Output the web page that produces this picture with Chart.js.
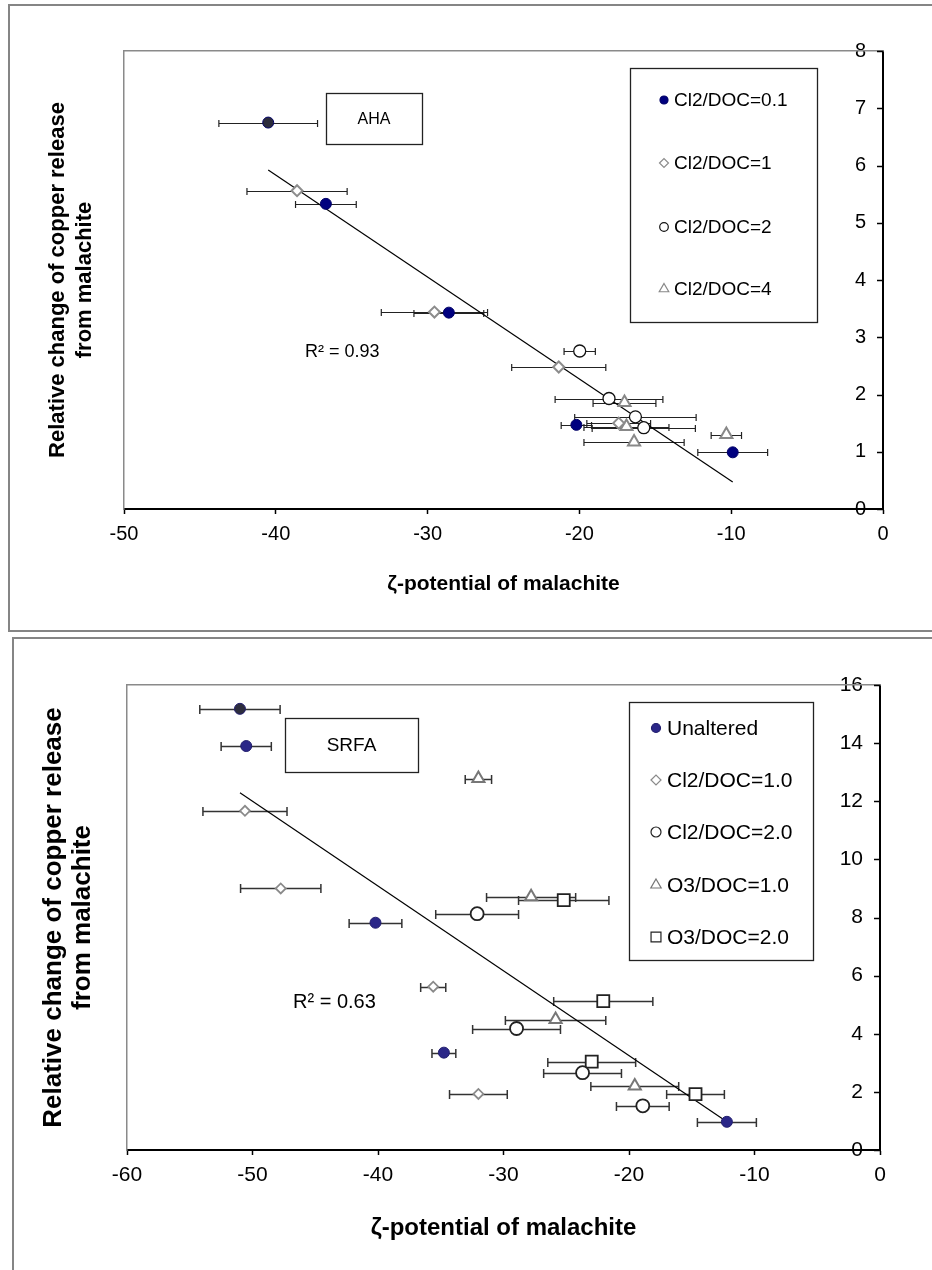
<!DOCTYPE html>
<html>
<head>
<meta charset="utf-8">
<script src="https://cdn.jsdelivr.net/npm/chart.js@4.4.0/dist/chart.umd.min.js"></script>
<style>
  html, body { margin: 0; padding: 0; background: #fff; }
  body { width: 932px; height: 1270px; position: relative; overflow: hidden; }
  .frame { position: absolute; border: 2px solid #858585; box-sizing: border-box; }
  #frameTop { left: 8px; top: 4px; width: 940px; height: 628px; }
  #frameBot { left: 12px; top: 637px; width: 940px; height: 660px; }
  .wrap { position: absolute; left: 0; width: 932px; }
  #ahaWrap { top: 0; height: 634px; }
  #srfaWrap { top: 634px; height: 636px; }
</style>
</head>
<body>
<div class="frame" id="frameTop"></div>
<div class="frame" id="frameBot"></div>
<div class="wrap" id="ahaWrap"><canvas id="ahaChart" width="932" height="634"></canvas></div>
<div class="wrap" id="srfaWrap"><canvas id="srfaChart" width="932" height="636"></canvas></div>
<script>
const FONT = '"Liberation Sans", Arial, sans-serif';

// ---------- AHA panel (top) ----------
const ahaLabels = ['Cl2/DOC=0.1', 'Cl2/DOC=1', 'Cl2/DOC=2', 'Cl2/DOC=4'];
const ahaCl01X = [-40.5, -36.7, -28.6, -20.2, -9.9];
const ahaCl01Y = [6.75, 5.33, 3.43, 1.47, 0.99];
const ahaCl01Err = [3.25, 2.0, 2.3, 1.0, 2.3];
const ahaCl1X = [-38.6, -29.55, -21.36, -17.41];
const ahaCl1Y = [5.56, 3.44, 2.48, 1.50];
const ahaCl1Err = [3.3, 3.5, 3.1, 2.1];
const ahaCl2X = [-19.98, -18.05, -16.31, -15.76];
const ahaCl2Y = [2.76, 1.93, 1.61, 1.42];
const ahaCl2Err = [1.03, 3.55, 4.0, 3.4];
const ahaCl4X = [-17.03, -16.9, -16.4, -10.32];
const ahaCl4Y = [1.86, 1.44, 1.17, 1.30];
const ahaCl4Err = [2.07, 2.8, 3.3, 1.0];
const ahaFitX = [-40.5, -9.9];
const ahaFitY = [5.92, 0.47];
const ahaXRange = [-50, 0, 10];
const ahaYRange = [0, 8, 1];

// ---------- SRFA panel (bottom) ----------
const srfaLabels = ['Unaltered', 'Cl2/DOC=1.0', 'Cl2/DOC=2.0', 'O3/DOC=1.0', 'O3/DOC=2.0'];
const srfaUnX = [-51.0, -50.5, -40.2, -34.75, -12.2];
const srfaUnY = [15.18, 13.9, 7.82, 3.35, 0.97];
const srfaUnErr = [3.2, 2.0, 2.1, 0.95, 2.35];
const srfaCl1X = [-50.6, -47.75, -35.6, -32.0];
const srfaCl1Y = [11.67, 9.0, 5.62, 1.93];
const srfaCl1Err = [3.35, 3.2, 1.0, 2.3];
const srfaCl2X = [-32.1, -28.96, -23.7, -18.9];
const srfaCl2Y = [8.13, 4.18, 2.66, 1.52];
const srfaCl2Err = [3.3, 3.5, 3.1, 2.1];
const srfaO31X = [-32.0, -27.8, -25.85, -19.54];
const srfaO31Y = [12.78, 8.71, 4.49, 2.2];
const srfaO31Err = [1.05, 3.55, 4.0, 3.5];
const srfaO32X = [-25.2, -22.05, -22.97, -14.7];
const srfaO32Y = [8.6, 5.12, 3.04, 1.92];
const srfaO32Err = [3.6, 3.95, 3.5, 2.3];
const srfaFitX = [-51.0, -12.2];
const srfaFitY = [12.29, 0.97];
const srfaXRange = [-60, 0, 10];
const srfaYRange = [0, 16, 2];

const yTitle = ['Relative change of copper release', 'from malachite'];
const xTitle = 'ζ-potential of malachite';

function pts(xs, ys) {
  return xs.map((x, i) => ({ x: x, y: ys[i] }));
}

function series(label, xs, ys, errs, st) {
  return {
    label: label,
    data: pts(xs, ys),
    xErr: errs,
    showLine: false,
    pointStyle: st.shape,
    pointRadius: st.r,
    pointHoverRadius: st.r,
    pointBackgroundColor: st.fill,
    pointBorderColor: st.line,
    pointBorderWidth: st.w,
    legendR: st.lr
  };
}

// horizontal error bars, drawn under the markers
const errorBars = {
  id: 'errorBars',
  beforeDatasetsDraw(chart, args, opts) {
    const { ctx, scales: { x, y } } = chart;
    ctx.save();
    ctx.strokeStyle = opts.color;
    ctx.lineWidth = opts.width;
    chart.data.datasets.forEach(ds => {
      if (!ds.xErr) return;
      ds.data.forEach((p, i) => {
        const e = ds.xErr[i];
        const x0 = x.getPixelForValue(p.x - e);
        const x1 = x.getPixelForValue(p.x + e);
        const py = Math.round(y.getPixelForValue(p.y)) + 0.5;
        ctx.beginPath();
        ctx.moveTo(x0, py); ctx.lineTo(x1, py);
        ctx.moveTo(x0, py - opts.cap); ctx.lineTo(x0, py + opts.cap);
        ctx.moveTo(x1, py - opts.cap); ctx.lineTo(x1, py + opts.cap);
        ctx.stroke();
      });
    });
    ctx.restore();
  }
};

// y tick marks pointing into the plot (axis sits at x = 0 on the right)
const innerTicks = {
  id: 'innerTicks',
  afterDraw(chart) {
    const s = chart.scales.y, ctx = chart.ctx;
    ctx.save();
    ctx.strokeStyle = '#000';
    ctx.lineWidth = 1.5;
    s.ticks.forEach(t => {
      const py = Math.round(s.getPixelForValue(t.value)) + 0.5;
      ctx.beginPath();
      ctx.moveTo(s.left - 6, py);
      ctx.lineTo(s.left, py);
      ctx.stroke();
    });
    ctx.restore();
  }
};

// sample tag, R² note and the boxed legend
const panelDecor = {
  id: 'panelDecor',
  afterDatasetsDraw(chart, args, o) {
    const ctx = chart.ctx;
    ctx.save();
    ctx.strokeStyle = '#222';
    ctx.lineWidth = 1.3;
    ctx.fillStyle = '#fff';
    const t = o.tag;
    ctx.fillRect(t.x, t.y, t.w, t.h);
    ctx.strokeRect(t.x + 0.5, t.y + 0.5, t.w, t.h);
    ctx.fillStyle = '#000';
    ctx.textAlign = 'center';
    ctx.textBaseline = 'middle';
    ctx.font = t.size + 'px ' + FONT;
    ctx.fillText(t.text, t.x + t.w / 2, t.y + t.h / 2 + 1);

    ctx.textAlign = 'left';
    ctx.font = o.r2.size + 'px ' + FONT;
    ctx.fillText(o.r2.text, o.r2.x, o.r2.y);

    const L = o.legend;
    ctx.fillStyle = '#fff';
    ctx.fillRect(L.x, L.y, L.w, L.h);
    ctx.strokeStyle = '#222';
    ctx.strokeRect(L.x + 0.5, L.y + 0.5, L.w, L.h);
    ctx.font = L.size + 'px ' + FONT;
    chart.data.datasets.filter(ds => ds.xErr).forEach((ds, i) => {
      const cy = L.rows[i];
      ctx.fillStyle = Array.isArray(ds.pointBackgroundColor) ? ds.pointBackgroundColor[1] : ds.pointBackgroundColor;
      ctx.strokeStyle = ds.pointBorderColor;
      ctx.lineWidth = 1.2;
      Chart.helpers.drawPoint(ctx, { pointStyle: ds.pointStyle, radius: ds.legendR, rotation: 0, borderWidth: 1.2 }, L.markX, cy);
      ctx.fillStyle = '#000';
      ctx.fillText(ds.label, L.textX, cy + 1);
    });
    ctx.restore();
  }
};

function buildChart(id, o) {
  const datasets = o.series.slice();
  datasets.push({
    label: 'fit', data: pts(o.fitX, o.fitY), showLine: true,
    borderColor: '#000', borderWidth: 1.2, pointRadius: 0, pointHoverRadius: 0, fill: false
  });
  return new Chart(document.getElementById(id), {
    type: 'scatter',
    data: { datasets: datasets },
    options: {
      responsive: false,
      animation: false,
      devicePixelRatio: 1,
      layout: { padding: { left: 0, right: o.padRight, top: o.padTop, bottom: o.padBottom } },
      plugins: {
        legend: { display: false },
        tooltip: { enabled: false },
        errorBars: o.bars,
        panelDecor: o.decor
      },
      scales: {
        x: {
          type: 'linear', position: 'bottom',
          min: o.xRange[0], max: o.xRange[1],
          ticks: { stepSize: o.xRange[2], color: '#000', padding: o.xTickPad, font: { family: FONT, size: o.tickSize } },
          grid: { display: true, drawOnChartArea: false, drawTicks: true, tickLength: 5, tickColor: '#000', tickWidth: 1.5 },
          border: { display: true, color: '#000', width: 2 },
          title: { display: true, text: xTitle, color: '#000', padding: 0, font: { family: FONT, size: o.xTitleSize, weight: 'bold', lineHeight: 1.2 } },
          afterFit(s) { s.height = o.xAxisH; }
        },
        y: {
          type: 'linear', position: 'right',
          min: o.yRange[0], max: o.yRange[1],
          ticks: { stepSize: o.yRange[2], color: '#000', mirror: true, padding: -17, font: { family: FONT, size: o.tickSize } },
          grid: { display: false },
          border: { display: true, color: '#000', width: 2 },
          afterFit(s) { s.width = 8; }
        },
        yl: {
          type: 'linear', axis: 'y', position: 'left',
          min: o.yRange[0], max: o.yRange[1],
          ticks: { display: false },
          grid: { display: false },
          border: { display: true, color: '#8a8a8a', width: 1.5 },
          title: { display: true, text: yTitle, color: '#000', padding: { top: o.yTitlePad, bottom: 0 }, font: { family: FONT, size: o.yTitleSize, weight: 'bold', lineHeight: o.yTitleLH } },
          afterFit(s) { s.width = o.areaLeft; }
        },
        xt: {
          type: 'linear', axis: 'x', position: 'top',
          min: o.xRange[0], max: o.xRange[1],
          ticks: { display: false },
          grid: { display: false },
          border: { display: true, color: '#8a8a8a', width: 1.5 },
          afterFit(s) { s.height = 0; }
        }
      }
    },
    plugins: [errorBars, innerTicks, panelDecor]
  });
}

// top: AHA
buildChart('ahaChart', {
  series: [
    series(ahaLabels[0], ahaCl01X, ahaCl01Y, ahaCl01Err, { shape: 'circle', r: 5.5, fill: ['#2b2b3b', '#00007f', '#00007f', '#00007f', '#00007f'], line: '#000066', w: 1, lr: 4 }),
    series(ahaLabels[1], ahaCl1X, ahaCl1Y, ahaCl1Err, { shape: 'rectRot', r: 5.5, fill: '#fff', line: '#8c8c8c', w: 2, lr: 4.5 }),
    series(ahaLabels[2], ahaCl2X, ahaCl2Y, ahaCl2Err, { shape: 'circle', r: 6, fill: '#fff', line: '#111', w: 1.3, lr: 4.3 }),
    series(ahaLabels[3], ahaCl4X, ahaCl4Y, ahaCl4Err, { shape: 'triangle', r: 7, fill: '#fff', line: '#888', w: 2, lr: 5.5 })
  ],
  fitX: ahaFitX, fitY: ahaFitY,
  xRange: ahaXRange, yRange: ahaYRange,
  areaLeft: 124, padRight: 41, padTop: 51, padBottom: 37, xAxisH: 88,
  tickSize: 20, xTickPad: 8, xTitleSize: 21,
  yTitleSize: 22, yTitleLH: 1.2, yTitlePad: 45,
  bars: { color: '#222', width: 1.2, cap: 3.5 },
  decor: {
    tag: { text: 'AHA', x: 326, y: 93, w: 96, h: 51, size: 16 },
    r2: { text: 'R² = 0.93', x: 305, y: 352, size: 18 },
    legend: { x: 630, y: 68, w: 187, h: 254, size: 19, markX: 664, textX: 674, rows: [100, 163, 227, 289] }
  }
});

// bottom: SRFA
buildChart('srfaChart', {
  series: [
    series(srfaLabels[0], srfaUnX, srfaUnY, srfaUnErr, { shape: 'circle', r: 5.5, fill: ['#2d2d3d', '#2b2788', '#2b2788', '#2b2788', '#2b2788'], line: '#221e6e', w: 1, lr: 4.5 }),
    series(srfaLabels[1], srfaCl1X, srfaCl1Y, srfaCl1Err, { shape: 'rectRot', r: 5, fill: '#fff', line: '#8a8a8a', w: 1.8, lr: 5 }),
    series(srfaLabels[2], srfaCl2X, srfaCl2Y, srfaCl2Err, { shape: 'circle', r: 6.5, fill: '#fff', line: '#222', w: 1.8, lr: 5 }),
    series(srfaLabels[3], srfaO31X, srfaO31Y, srfaO31Err, { shape: 'triangle', r: 7, fill: '#fff', line: '#777', w: 2, lr: 6 }),
    series(srfaLabels[4], srfaO32X, srfaO32Y, srfaO32Err, { shape: 'rect', r: 8.5, fill: '#fff', line: '#222', w: 1.8, lr: 7 })
  ],
  fitX: srfaFitX, fitY: srfaFitY,
  xRange: srfaXRange, yRange: srfaYRange,
  areaLeft: 127, padRight: 44, padTop: 51, padBottom: 27, xAxisH: 93,
  tickSize: 21, xTickPad: 8, xTitleSize: 24,
  yTitleSize: 26, yTitleLH: 1.1, yTitlePad: 40,
  bars: { color: '#333', width: 1.5, cap: 4.5 },
  decor: {
    tag: { text: 'SRFA', x: 285, y: 84, w: 133, h: 54, size: 19 },
    r2: { text: 'R² = 0.63', x: 293, y: 368, size: 20 },
    legend: { x: 629, y: 68, w: 184, h: 258, size: 21, markX: 656, textX: 667, rows: [94, 146, 198, 251, 303] }
  }
});
</script>
</body>
</html>
